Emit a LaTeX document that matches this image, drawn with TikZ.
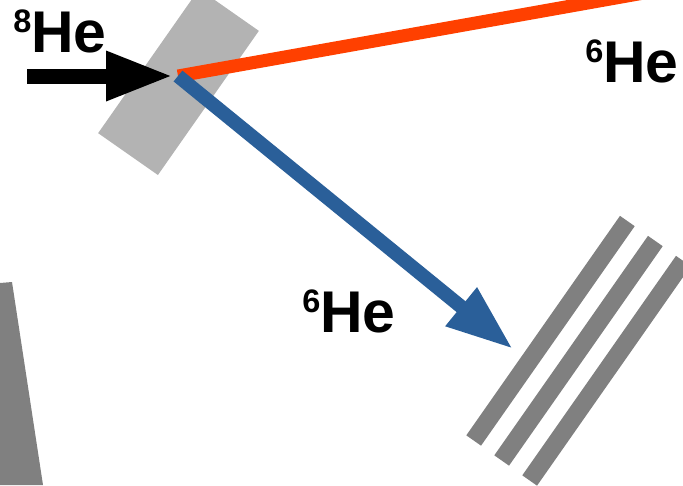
\documentclass[tikz,border=0pt]{standalone}
\usepackage{fontspec}
\setmainfont{Liberation Sans}
\usetikzlibrary{arrows.meta}

\definecolor{recoil}{HTML}{FF4000}
\definecolor{ejectile}{HTML}{2A5F99}
\definecolor{foil}{HTML}{B3B3B3}
\definecolor{silicon}{HTML}{808080}

\newcommand{\nuclide}[2]{\raisebox{11.3pt}{\fontsize{18.5}{18.5}\selectfont #1}#2}

\begin{document}
\begin{tikzpicture}[
    x=0.02cm, y=-0.02cm,
    target/.style={rectangle, fill=foil, minimum width=3.52cm, minimum height=1.46cm, inner sep=0, rotate=55},
    strip/.style={rectangle, fill=silicon, minimum width=5.36cm, minimum height=0.36cm, inner sep=0, rotate=55},
    isotope/.style={font=\fontsize{33.5}{40}\selectfont\bfseries, inner sep=0, anchor=base west},
    track/.style={line width=0.26cm},
    arrow/.style={line width=0.3cm, -{Triangle[length=1.34cm, width=0.92cm]}}
]
\useasboundingbox (0,0) rectangle (683,485);
\clip (0,0) rectangle (683,485);

% Target and detectors
\node[target] (tgt) at (178.5,82) {};
\foreach \i in {0,1,2}
    \node[strip] (det\i) at (550.5+28*\i, 330.75+20*\i) {};
\fill[silicon] (0,283) -- (12,282) -- (43,485) -- (0,485) -- cycle;

% Beam and reaction products
\coordinate (ip)   at (178,76);
\coordinate (in)   at (27,76);
\coordinate (tip)  at (173,76);
\coordinate (fwd)  at (700,-17);
\coordinate (hit)  at (513,349);

\draw[arrow] (in) -- (tip);
\draw[track, recoil] (ip) -- (fwd);
\draw[arrow, ejectile, line width=0.28cm] (ip) -- (hit);

% Labels
\node[isotope] (lbeam) at (13,52)  {\nuclide{8}{He}};
\node[isotope] (lfwd)  at (585,82) {\nuclide{6}{He}};
\node[isotope] (lside) at (302,332) {\nuclide{6}{He}};

\end{tikzpicture}
\end{document}
